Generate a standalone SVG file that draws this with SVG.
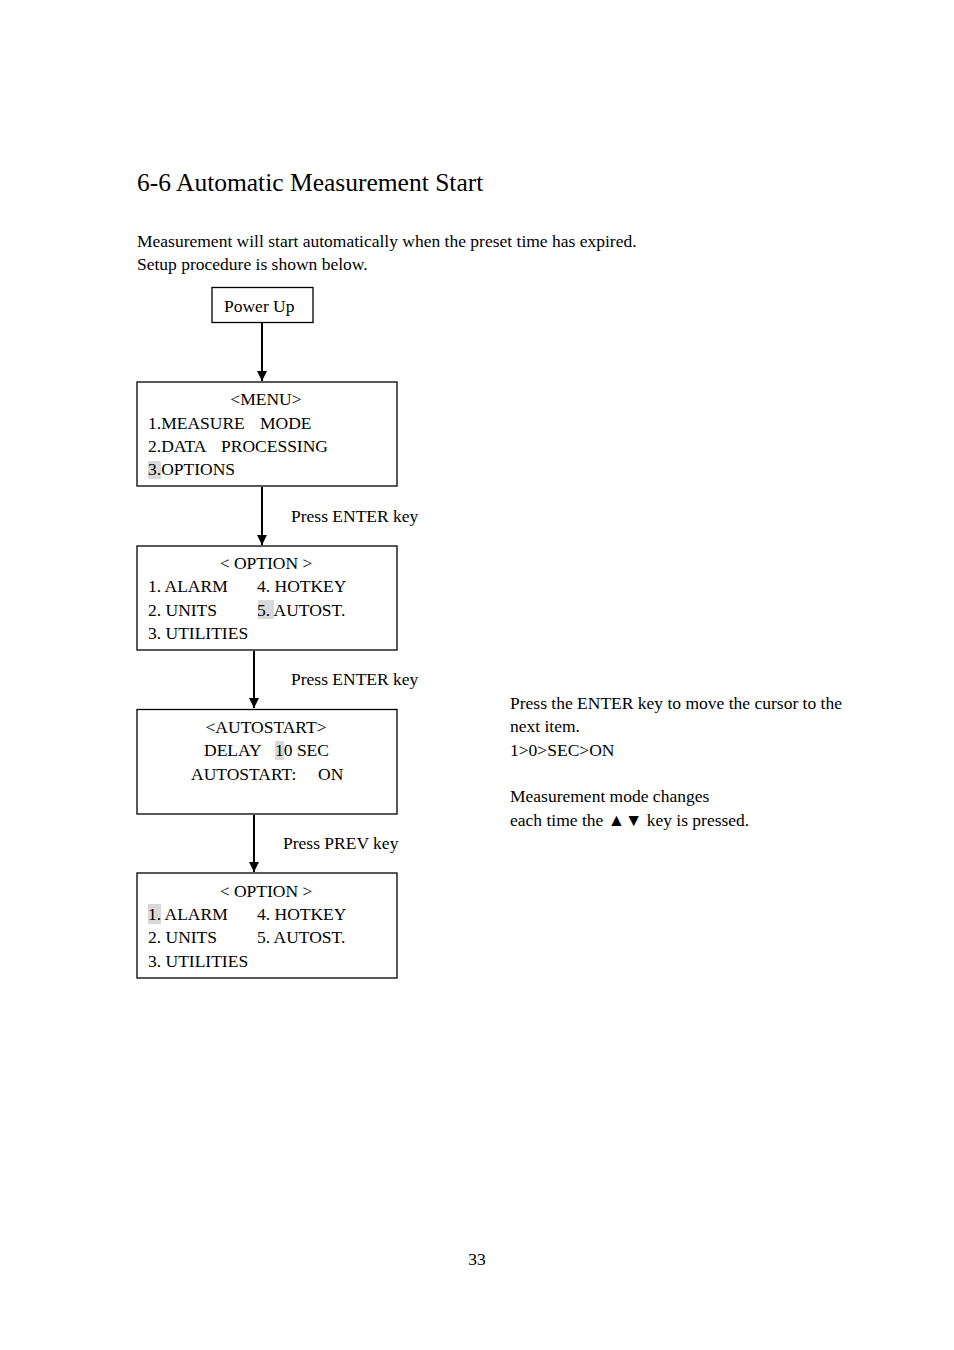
<svg xmlns="http://www.w3.org/2000/svg" width="954" height="1350" viewBox="0 0 954 1350">
<style>
text{font-family:"Liberation Serif","Times New Roman",serif;font-size:17.5px;fill:#000}
.t{font-size:25.5px}
.c{text-anchor:middle}
.box{fill:#fff;stroke:#000;stroke-width:1.3}
.hl{fill:#d9d9d9}
.ln{stroke:#000;stroke-width:2;fill:none}
</style>
<defs>
<marker id="ah" viewBox="0 0 10 10" refX="10" refY="5" markerWidth="5" markerHeight="5" orient="auto" markerUnits="strokeWidth">
<path d="M0,0 L10,5 L0,10 z" fill="#000"/>
</marker>
</defs>
<rect width="954" height="1350" fill="#fff"/>
<text class="t" x="137" y="191">6-6 Automatic Measurement Start</text>
<text x="137" y="247">Measurement will start automatically when the preset time has expired.</text>
<text x="137" y="270">Setup procedure is shown below.</text>

<g id="connectors">
<line class="ln" x1="262" y1="323" x2="262" y2="381" marker-end="url(#ah)"/>
<line class="ln" x1="262" y1="487" x2="262" y2="545" marker-end="url(#ah)"/>
<line class="ln" x1="254" y1="651" x2="254" y2="708" marker-end="url(#ah)"/>
<line class="ln" x1="254" y1="815" x2="254" y2="872" marker-end="url(#ah)"/>
<text x="291" y="522">Press ENTER key</text>
<text x="291" y="685">Press ENTER key</text>
<text x="283" y="849">Press PREV key</text>
</g>

<g id="powerup">
<rect class="box" x="212" y="287.5" width="101" height="35"/>
<text x="224" y="312">Power Up</text>
</g>

<g id="menu">
<rect class="box" x="137" y="382" width="260" height="104"/>
<rect class="hl" x="148" y="461" width="13" height="18"/>
<text class="c" x="266" y="405">&lt;MENU&gt;</text>
<text x="148" y="429">1.MEASURE</text><text x="260" y="429">MODE</text>
<text x="148" y="452">2.DATA</text><text x="221" y="452">PROCESSING</text>
<text x="148" y="475">3.OPTIONS</text>
</g>

<g id="option1">
<rect class="box" x="137" y="546" width="260" height="104"/>
<rect class="hl" x="258" y="600" width="16" height="19"/>
<text class="c" x="266" y="569">&lt; OPTION &gt;</text>
<text x="148" y="592">1. ALARM</text><text x="257" y="592">4. HOTKEY</text>
<text x="148" y="616">2. UNITS</text><text x="257" y="616">5. AUTOST.</text>
<text x="148" y="639">3. UTILITIES</text>
</g>

<g id="autostart">
<rect class="box" x="137" y="709.5" width="260" height="104.5"/>
<rect class="hl" x="275" y="741" width="9" height="19"/>
<text class="c" x="266" y="733">&lt;AUTOSTART&gt;</text>
<text x="204" y="756">DELAY</text><text x="275" y="756">10 SEC</text>
<text x="191" y="780">AUTOSTART:</text><text x="318" y="780">ON</text>
</g>

<g id="option2">
<rect class="box" x="137" y="873" width="260" height="105"/>
<rect class="hl" x="148" y="904" width="13" height="20"/>
<text class="c" x="266" y="897">&lt; OPTION &gt;</text>
<text x="148" y="920">1. ALARM</text><text x="257" y="920">4. HOTKEY</text>
<text x="148" y="943">2. UNITS</text><text x="257" y="943">5. AUTOST.</text>
<text x="148" y="967">3. UTILITIES</text>
</g>

<g id="note">
<text x="510" y="709">Press the ENTER key to move the cursor to the</text>
<text x="510" y="732">next item.</text>
<text x="510" y="756">1&gt;0&gt;SEC&gt;ON</text>
<text x="510" y="802">Measurement mode changes</text>
<text x="510" y="826">each time the ▲▼ key is pressed.</text>
</g>

<text class="c" x="477" y="1265">33</text>
</svg>
